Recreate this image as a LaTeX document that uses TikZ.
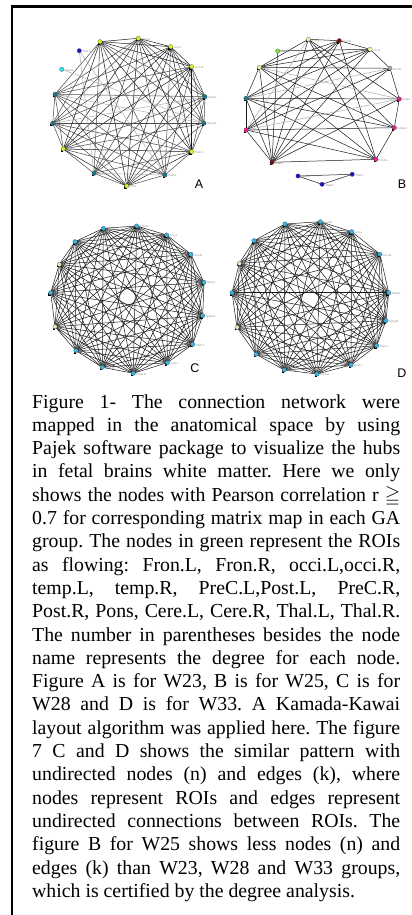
\documentclass[tikz,border=0pt]{standalone}
\usepackage{amssymb}
\usepackage{fontspec}
\setmainfont{Liberation Serif}
\newfontfamily\panelfont{Liberation Sans}
\usetikzlibrary{calc}
\frenchspacing

\definecolor{roiyel}{HTML}{E2EE1E}
\definecolor{roiteal}{HTML}{16788C}
\definecolor{roiblue}{HTML}{1414D2}
\definecolor{roicyan}{HTML}{2EE0E6}
\definecolor{roisky}{HTML}{36B6E2}
\definecolor{roipale}{HTML}{D4EEB8}
\definecolor{roicream}{HTML}{F2F0A6}
\definecolor{roired}{HTML}{7A0A0A}
\definecolor{roigray}{HTML}{A8A8A8}
\definecolor{roimag}{HTML}{EE1E96}
\definecolor{roigreen}{HTML}{86E23A}

\tikzset{
    wire/.style={line width=0.5pt, draw=black!90},
    softwire/.style={line width=0.5pt, draw=black!72},
    faintwire/.style={line width=0.45pt, draw=black!35},
    roi/.style={circle, draw=black!70, line width=0.2pt, fill=#1, inner sep=0pt, minimum size=4.4pt},
    hubpin/.style={fill=black, inner sep=0pt, minimum size=2.6pt},
    roitag/.style={font=\panelfont\fontsize{2.8}{3}\selectfont, text=black!50, inner sep=0pt, anchor=west},
    panel/.style={font=\panelfont\fontsize{12.5}{14}\selectfont},
    capline/.style={font=\fontsize{19.8}{23.3}\selectfont, inner sep=0pt, anchor=base west}}

\begin{document}
\begin{tikzpicture}[x=1pt, y=-1pt]
\useasboundingbox (0,0) rectangle (412,915);
\draw[line width=2.2pt] (12,915) -- (12,6.5) -- (412,6.5);

%%% A : W23
\coordinate (a0) at (100,41.7) ;
\coordinate (a1) at (138.3,38.3) ;
\coordinate (a2) at (170.7,46.7) ;
\coordinate (a3) at (191.7,66.7) ;
\coordinate (a4) at (205,96.7) ;
\coordinate (a5) at (204,123.3) ;
\coordinate (a6) at (191.7,151.7) ;
\coordinate (a7) at (165,175) ;
\coordinate (a8) at (126.7,186) ;
\coordinate (a9) at (94,173.3) ;
\coordinate (a10) at (63.3,149) ;
\coordinate (a11) at (52.7,123.3) ;
\coordinate (a12) at (55,94.3) ;
\coordinate (a13) at (79.3,50.7) ;
\coordinate (a14) at (61.7,69.3) ;

\foreach \u in {0,1,2,3,6,8,10} \foreach \v in {4,5,7,9,11,12} \draw[softwire] (a\u) -- (a\v);
\foreach \u/\v in {0/1,0/2,0/3,0/6,0/8,0/10,1/2,1/3,1/6,1/8,1/10,2/3,2/6,2/8,2/10,3/6,3/8,3/10,6/8,6/10,8/10} \draw[wire] (a\u) -- (a\v);
\foreach \u/\v in {4/5,11/12,12/4,11/5,9/4,7/11,12/7} \draw[softwire] (a\u) -- (a\v);
\foreach \u/\v in {4/11,5/12,7/9,13/9,13/7,14/5} \draw[faintwire] (a\u) -- (a\v);

\foreach \i/\col/\roi in {0/roiyel/Fron.L,1/roiyel/Fron.R,2/roiyel/occi.L,3/roiyel/occi.R,4/roiteal/temp.L,5/roiteal/temp.R,6/roiyel/PreC.L,7/roiteal/Post.L,8/roiyel/Pons,9/roiteal/PreC.R,10/roiyel/Post.R,11/roiteal/Cere.L,12/roiteal/Cere.R}{
    \node[hubpin] (a\i-pin) at ($(a\i)+(-1.2,1.6)$) {};
    \node[roi=\col] (a\i-dot) at (a\i) {};
    \node[roitag] (a\i-tag) at ($(a\i)+(3.2,0.8)$) {\roi};
}
\node[roi=roiblue] (a13-dot) at (a13) {};
\node[roitag] (a13-tag) at ($(a13)+(3.2,0.8)$) {Thal.L};
\node[roi=roicyan] (a14-dot) at (a14) {};
\node[roitag] (a14-tag) at ($(a14)+(3.2,0.8)$) {Thal.R};
\node[panel] (labA) at (199,184) {A};

%%% B : W25
\coordinate (b0) at (308.3,39.3) ;
\coordinate (b1) at (339.3,40.7) ;
\coordinate (b2) at (370,49.3) ;
\coordinate (b3) at (390,68.3) ;
\coordinate (b4) at (399.3,99) ;
\coordinate (b5) at (394.3,127.7) ;
\coordinate (b6) at (376,159.3) ;
\coordinate (b7) at (272,162.3) ;
\coordinate (b8) at (246,130) ;
\coordinate (b9) at (246,98.3) ;
\coordinate (b10) at (259.3,67.3) ;
\coordinate (b11) at (277.7,51) ;
\coordinate (b12) at (298,176) ;
\coordinate (b13) at (352.2,174.3) ;
\coordinate (b14) at (322,184.3) ;

\foreach \u/\v in {0/1,1/2,2/3,3/4,4/5,5/6,6/7,7/8,8/9,9/10,10/0,9/4,8/5,10/3,11/7,11/2,1/7,1/8,1/9,1/10,1/6,0/6,0/7,0/5,0/4,2/8,2/9,2/7,2/10,3/7,3/8,4/7,5/9,5/10,6/8,6/9,6/10,7/9,7/10,12/13,12/14,14/13} \draw[wire] (b\u) -- (b\v);
\foreach \u/\v in {3/9,0/8,4/8,4/10} \draw[faintwire] (b\u) -- (b\v);

\foreach \i/\col/\roi in {0/roicream/Fron.L,1/roired/Fron.R,2/roicream/occi.L,3/roigray/occi.R,4/roimag/temp.L,5/roimag/temp.R,6/roimag/PreC.L,7/roired/Post.L,8/roimag/PreC.R,9/roiteal/Post.R,10/roicream/Pons}{
    \node[hubpin] (b\i-pin) at ($(b\i)+(-1.2,1.6)$) {};
    \node[roi=\col] (b\i-dot) at (b\i) {};
    \node[roitag] (b\i-tag) at ($(b\i)+(3.2,0.8)$) {\roi};
}
\foreach \i/\col/\roi in {11/roigreen/Cere.L,12/roiblue/Cere.R,13/roiblue/Thal.L,14/roiblue/Thal.R}{
    \node[roi=\col] (b\i-dot) at (b\i) {};
    \node[roitag] (b\i-tag) at ($(b\i)+(3.2,0.8)$) {\roi};
}
\node[panel] (labB) at (402,184) {B};

%%% C : W28
\coordinate (c0) at (103.3,228.3) ;
\coordinate (c1) at (136.7,226) ;
\coordinate (c2) at (166.7,235) ;
\coordinate (c3) at (191,254.3) ;
\coordinate (c4) at (204,282.3) ;
\coordinate (c5) at (202.7,315.7) ;
\coordinate (c6) at (192.7,344.3) ;
\coordinate (c7) at (167.3,362.7) ;
\coordinate (c8) at (133.3,373.3) ;
\coordinate (c9) at (102.3,367.3) ;
\coordinate (c10) at (76,350.7) ;
\coordinate (c11) at (55,326.7) ;
\coordinate (c12) at (50.7,292.7) ;
\coordinate (c13) at (59.3,264.3) ;
\coordinate (c14) at (75,241.7) ;

%%% D : W33
\coordinate (d0) at (285,224) ;
\coordinate (d1) at (320.3,221.7) ;
\coordinate (d2) at (351.7,231.7) ;
\coordinate (d3) at (380,254.3) ;
\coordinate (d4) at (388.7,292.7) ;
\coordinate (d5) at (386,320.7) ;
\coordinate (d6) at (376.7,345.7) ;
\coordinate (d7) at (351,365) ;
\coordinate (d8) at (317,374) ;
\coordinate (d9) at (284.3,370) ;
\coordinate (d10) at (256,354.3) ;
\coordinate (d11) at (237,327.3) ;
\coordinate (d12) at (232,292.7) ;
\coordinate (d13) at (239.3,263.3) ;
\coordinate (d14) at (254,240.7) ;

% every pair linked
\foreach \g in {c,d}{
    \foreach \i in {0,...,13}{
        \pgfmathtruncatemacro\nxt{\i+1}
        \foreach \j in {\nxt,...,14} \draw[wire] (\g\i) -- (\g\j);
    }
}
\foreach \g in {c,d}{
    \foreach \i/\col/\roi in {0/roisky/Fron.L,1/roisky/Fron.R,2/roisky/occi.L,3/roisky/occi.R,4/roisky/temp.L,5/roisky/temp.R,6/roisky/PreC.L,7/roisky/Post.L,8/roisky/PreC.R,9/roisky/Post.R,10/roisky/Pons,11/roipale/Cere.L,12/roisky/Cere.R,13/roipale/Thal.L,14/roisky/Thal.R}{
        \node[hubpin] (\g\i-pin) at ($(\g\i)+(-1.2,1.6)$) {};
        \node[roi=\col] (\g\i-dot) at (\g\i) {};
        \node[roitag] (\g\i-tag) at ($(\g\i)+(3.2,0.8)$) {\roi};
    }
}
\node[panel] (labC) at (195,368) {C};
\node[panel] (labD) at (402,373) {D};

%%% caption
\foreach \txt [count=\k] in {
    {Figure 1- The connection network were},
    {mapped in the anatomical space by using},
    {Pajek software package to visualize the hubs},
    {in fetal brains white matter. Here we only},
    {shows the nodes with Pearson correlation r $\geqq$},
    {0.7 for corresponding matrix map in each GA},
    {group. The nodes in green represent the ROIs},
    {as flowing: Fron.L, Fron.R, occi.L,occi.R,},
    {temp.L, temp.R, PreC.L,Post.L, PreC.R,},
    {Post.R, Pons, Cere.L, Cere.R, Thal.L, Thal.R.},
    {The number in parentheses besides the node},
    {name represents the degree for each node.},
    {Figure A is for W23, B is for W25, C is for},
    {W28 and D is for W33. A Kamada-Kawai},
    {layout algorithm was applied here. The figure},
    {7 C and D shows the similar pattern with},
    {undirected nodes (n) and edges (k), where},
    {nodes represent ROIs and edges represent},
    {undirected connections between ROIs. The},
    {figure B for W25 shows less nodes (n) and},
    {edges (k) than W23, W28 and W33 groups,}}{
    \node[capline] (cap\k) at (32,{384.7+23.3*\k}) {\makebox[368pt][s]{\txt}};
}
\node[capline] (cap22) at (32,897.3) {which is certified by the degree analysis.};
\end{tikzpicture}
\end{document}
